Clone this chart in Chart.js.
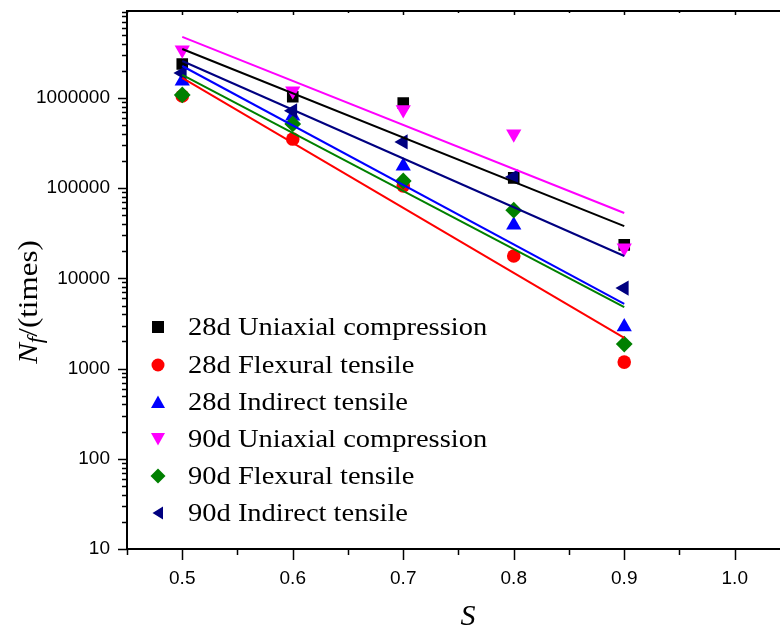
<!DOCTYPE html>
<html>
<head>
<meta charset="utf-8">
<script src="https://cdn.jsdelivr.net/npm/chart.js@4/dist/chart.umd.min.js"></script>
<style>
html,body{margin:0;padding:0;background:#fff;width:780px;height:630px;overflow:hidden}
#wrap{position:relative;width:780px;height:630px}
#c{position:absolute;left:0;top:0}
.legend{position:absolute;left:0;top:0;font-family:"Liberation Serif","Times New Roman",serif;color:#000}
.row{position:absolute;left:150px;height:30px;white-space:nowrap}
.row svg{position:absolute;left:0;top:7px}
.row span{position:absolute;left:38px;top:0;font-size:25px;line-height:30px;transform:scaleX(1.14);transform-origin:left center}
#ytitle{position:absolute;left:30px;top:302px;white-space:nowrap;font-family:"Liberation Serif","Times New Roman",serif;font-size:27px;transform:translate(-50%,-50%) rotate(-90deg) scaleX(1.15);color:#000}
#ytitle sub{font-size:20px;vertical-align:-5px}
#xtitle{position:absolute;left:468px;top:615px;transform:translate(-50%,-50%);font-family:"Liberation Serif","Times New Roman",serif;font-style:italic;font-size:30px;color:#000}
</style>
</head>
<body>
<div id="wrap">
<canvas id="c" width="780" height="630"></canvas>
<div id="ytitle"><i>N</i><sub><i>f</i></sub>/(times)</div>
<div id="xtitle">S</div>
<div class="legend" id="legend"></div>
</div>
<script>
// ---- data ----
const stressLevels = [0.5, 0.6, 0.7, 0.8, 0.9];
const seriesNames = [
  '28d Uniaxial compression',
  '28d Flexural tensile',
  '28d Indirect tensile',
  '90d Uniaxial compression',
  '90d Flexural tensile',
  '90d Indirect tensile'
];
const uniaxial28 = [2.38e6, 1.03e6, 8.8e5, 1.3e5, 2.35e4];
const flexural28 = [1.05e6, 3.5e5, 1.06e5, 1.77e4, 1.18e3];
const indirect28 = [1.54e6, 6.3e5, 1.76e5, 3.9e4, 2.9e3];
const uniaxial90 = [3.4e6, 1.2e6, 7.4e5, 4.0e5, 2.17e4];
const flexural90 = [1.08e6, 5.15e5, 1.2e5, 5.7e4, 1.87e3];
const indirect90 = [1.89e6, 7.2e5, 3.25e5, 1.33e5, 7.8e3];
// fitted lines: value at S = 0.5 and at S = 0.9
const fitS = [0.5, 0.9];
const fitUniaxial28 = [3.49e6, 3.8e4];
const fitFlexural28 = [1.67e6, 2.19e3];
const fitIndirect28 = [2.26e6, 5.2e3];
const fitUniaxial90 = [4.75e6, 5.3e4];
const fitFlexural90 = [1.8e6, 4.8e3];
const fitIndirect90 = [2.57e6, 1.77e4];
// axes
const yTickLabels = [10, 100, 1000, 10000, 100000, 1000000];
const xTickLabels = ['0.5', '0.6', '0.7', '0.8', '0.9', '1.0'];
const xTickValues = [0.45, 0.5, 0.55, 0.6, 0.65, 0.7, 0.75, 0.8, 0.85, 0.9, 0.95, 1.0];

// ---- styling ----
const colors = ['#000000', '#ff0000', '#0000ff', '#ff00ff', '#008000', '#000080'];
const styles = ['rect', 'circle', 'triangle', 'triangle', 'rectRot', 'triangle'];
const rotations = [0, 0, 0, 180, 0, 270];
const radii = [8.2, 6.8, 8.8, 8.8, 8.4, 8.8];

const seriesValues = [uniaxial28, flexural28, indirect28, uniaxial90, flexural90, indirect90];
const fitValues = [fitUniaxial28, fitFlexural28, fitIndirect28, fitUniaxial90, fitFlexural90, fitIndirect90];

const datasets = [];
seriesValues.forEach((vals, i) => {
  datasets.push({
    label: seriesNames[i],
    data: stressLevels.map((s, k) => ({x: s, y: vals[k]})),
    showLine: false,
    pointStyle: styles[i],
    rotation: rotations[i],
    pointRadius: radii[i],
    pointHoverRadius: radii[i],
    backgroundColor: colors[i],
    borderColor: colors[i],
    borderWidth: 0,
    order: 20 - i
  });
});
fitValues.forEach((vals, i) => {
  datasets.push({
    label: seriesNames[i] + ' fit',
    data: fitS.map((s, k) => ({x: s, y: vals[k]})),
    showLine: true,
    pointRadius: 0,
    borderColor: colors[i],
    borderWidth: 2,
    fill: false,
    order: 6 - i
  });
});

const axesPlugin = {
  id: 'axesPlugin',
  afterDatasetsDraw(chart) {
    const ctx = chart.ctx, a = chart.chartArea;
    const xs = chart.scales.x, ys = chart.scales.y;
    ctx.save();
    ctx.strokeStyle = '#000';
    ctx.lineWidth = 2;
    ctx.beginPath();
    ctx.moveTo(a.left, a.top - 1); ctx.lineTo(a.left, a.bottom + 1);
    ctx.moveTo(a.left - 1, a.bottom); ctx.lineTo(chart.width, a.bottom);
    ctx.moveTo(a.left - 1, a.top); ctx.lineTo(chart.width, a.top);
    ctx.stroke();
    ctx.lineWidth = 1.5;
    ctx.beginPath();
    // y ticks (log decades with minors)
    for (let d = 1; d <= 7; d++) {
      for (let m = 1; m <= 9; m++) {
        const v = m * Math.pow(10, d);
        const py = Math.round(ys.getPixelForValue(v)) + 0.5;
        if (py < a.top - 0.5 || py > a.bottom + 0.5) continue;
        const len = m === 1 ? 9 : 5;
        ctx.moveTo(a.left - len, py); ctx.lineTo(a.left, py);
      }
    }
    // x ticks
    xTickValues.forEach(v => {
      const px = Math.round(xs.getPixelForValue(v)) + 0.5;
      const major = Math.abs(v * 10 - Math.round(v * 10)) < 1e-6;
      const len = major ? 11 : 6;
      ctx.moveTo(px, a.bottom); ctx.lineTo(px, a.bottom + len);
      const tl = major ? 4 : 2;
      ctx.moveTo(px, a.top); ctx.lineTo(px, a.top + tl);
    });
    ctx.stroke();
    ctx.restore();
  }
};

function zeroPad(scale) {
  scale.paddingTop = 0; scale.paddingBottom = 0;
  scale.paddingLeft = 0; scale.paddingRight = 0;
}

new Chart(document.getElementById('c'), {
  type: 'scatter',
  data: {datasets},
  options: {
    responsive: false,
    animation: false,
    events: [],
    layout: {padding: {top: 11, left: 0, right: 0, bottom: 0}},
    plugins: {legend: {display: false}, tooltip: {enabled: false}},
    scales: {
      x: {
        type: 'linear',
        min: 0.45,
        max: 1.033,
        grid: {display: false, drawTicks: false},
        border: {display: false},
        afterFit(scale) { scale.height = 81; zeroPad(scale); },
        afterBuildTicks(scale) {
          scale.ticks = xTickLabels.map(t => ({value: parseFloat(t)}));
        },
        ticks: {
          autoSkip: false,
          maxRotation: 0,
          padding: 18,
          color: '#000',
          font: {family: 'Liberation Sans, Arial, sans-serif', size: 19},
          callback(v, idx) { return xTickLabels[idx]; }
        }
      },
      y: {
        type: 'logarithmic',
        min: 10,
        max: 9.2e6,
        grid: {display: false, drawTicks: false},
        border: {display: false},
        afterFit(scale) { scale.width = 127; zeroPad(scale); },
        afterBuildTicks(scale) {
          scale.ticks = yTickLabels.map(v => ({value: v}));
        },
        ticks: {
          autoSkip: false,
          padding: 17,
          color: '#000',
          font: {family: 'Liberation Sans, Arial, sans-serif', size: 19},
          callback(v, idx) { return String(yTickLabels[idx]); }
        }
      }
    }
  },
  plugins: [axesPlugin]
});

// legend (HTML text, markers as svg)
const legendTops = [312, 350, 387, 424, 461, 498];
const legend = document.getElementById('legend');
function markerSvg(i) {
  const c = colors[i];
  let shape = '';
  if (i === 0) shape = `<rect x="2" y="2" width="12" height="12" fill="${c}"/>`;
  if (i === 1) shape = `<circle cx="8" cy="8" r="6.5" fill="${c}"/>`;
  if (i === 2) shape = `<polygon points="8,1.5 15,14 1,14" fill="${c}"/>`;
  if (i === 3) shape = `<polygon points="1,2 15,2 8,14.5" fill="${c}"/>`;
  if (i === 4) shape = `<polygon points="8,0.5 15.5,8 8,15.5 0.5,8" fill="${c}"/>`;
  if (i === 5) shape = `<polygon points="2.5,8 13,1.5 13,14.5" fill="${c}"/>`;
  return `<svg width="16" height="16" viewBox="0 0 16 16">${shape}</svg>`;
}
seriesNames.forEach((name, i) => {
  const row = document.createElement('div');
  row.className = 'row';
  row.style.top = legendTops[i] + 'px';
  row.innerHTML = markerSvg(i) + `<span>${name}</span>`;
  legend.appendChild(row);
});
</script>
</body>
</html>
